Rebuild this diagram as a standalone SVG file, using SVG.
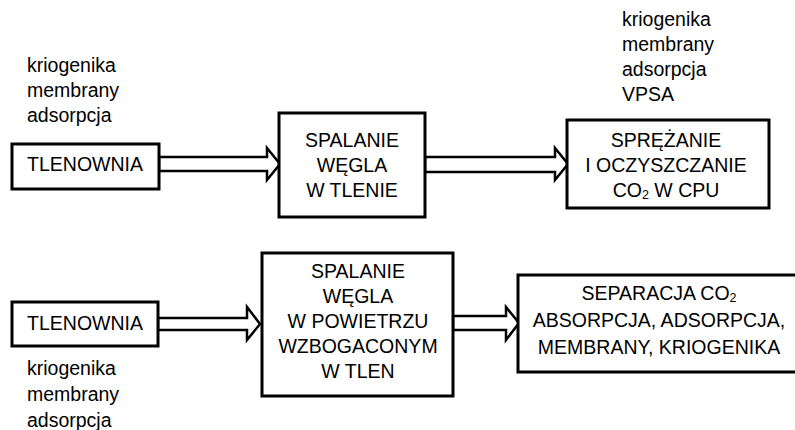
<svg xmlns="http://www.w3.org/2000/svg" width="795" height="430" viewBox="0 0 795 430">
<style>
.box{fill:#fff;stroke:#000;stroke-width:3}
.arr{fill:#fff;stroke:#000;stroke-width:2.5;stroke-linejoin:miter}
text{font-family:"Liberation Sans",Arial,sans-serif;font-size:19.5px;fill:#000}
.c{text-anchor:middle}
.sub{font-size:12.5px}
</style>
<rect width="795" height="430" fill="#fff"/>
<g id="connectors">
<polygon class="arr" points="159,157 267,157 267,148 280,164 267,180 267,171 159,171"/>
<polygon class="arr" points="425,157 555,157 555,148 568,164 555,180 555,172 425,172"/>
<polygon class="arr" points="158,318 247,318 247,307 260,324 247,340 247,330 158,330"/>
<polygon class="arr" points="453,316 506,316 506,307 519,323 506,340 506,330 453,330"/>
</g>
<g id="labels-top-left">
<text x="27" y="72">kriogenika</text>
<text x="27" y="97">membrany</text>
<text x="27" y="122">adsorpcja</text>
</g>
<g id="labels-top-right">
<text x="622" y="26">kriogenika</text>
<text x="622" y="51">membrany</text>
<text x="622" y="76">adsorpcja</text>
<text x="622" y="101">VPSA</text>
</g>
<g id="labels-bottom-left">
<text x="27" y="375">kriogenika</text>
<text x="27" y="401">membrany</text>
<text x="27" y="427">adsorpcja</text>
</g>
<g id="tlenownia1">
<rect class="box" x="12" y="144" width="147" height="45"/>
<text class="c" x="85" y="171">TLENOWNIA</text>
</g>
<g id="spalanie-tlen">
<rect class="box" x="279" y="113" width="146" height="104"/>
<text class="c" x="352" y="147">SPALANIE</text>
<text class="c" x="352" y="172">WĘGLA</text>
<text class="c" x="352" y="197">W TLENIE</text>
</g>
<g id="cpu">
<rect class="box" x="567" y="120" width="202" height="88"/>
<text class="c" x="666" y="147">SPRĘŻANIE</text>
<text class="c" x="666" y="172">I OCZYSZCZANIE</text>
<text class="c" x="666" y="197">CO<tspan class="sub" dy="2">2</tspan><tspan dy="-2"> W CPU</tspan></text>
</g>
<g id="tlenownia2">
<rect class="box" x="12" y="302" width="146" height="44"/>
<text class="c" x="85" y="330">TLENOWNIA</text>
</g>
<g id="spalanie-powietrze">
<rect class="box" x="262" y="253" width="191" height="143"/>
<text class="c" x="358" y="278">SPALANIE</text>
<text class="c" x="358" y="303">WĘGLA</text>
<text class="c" x="358" y="328">W POWIETRZU</text>
<text class="c" x="358" y="353">WZBOGACONYM</text>
<text class="c" x="358" y="378">W TLEN</text>
</g>
<g id="separacja">
<rect class="box" x="518" y="275" width="284" height="97"/>
<text class="c" x="659" y="300">SEPARACJA CO<tspan class="sub" dy="2">2</tspan></text>
<text class="c" x="659" y="327">ABSORPCJA, ADSORPCJA,</text>
<text class="c" x="659" y="354">MEMBRANY, KRIOGENIKA</text>
</g>
</svg>
